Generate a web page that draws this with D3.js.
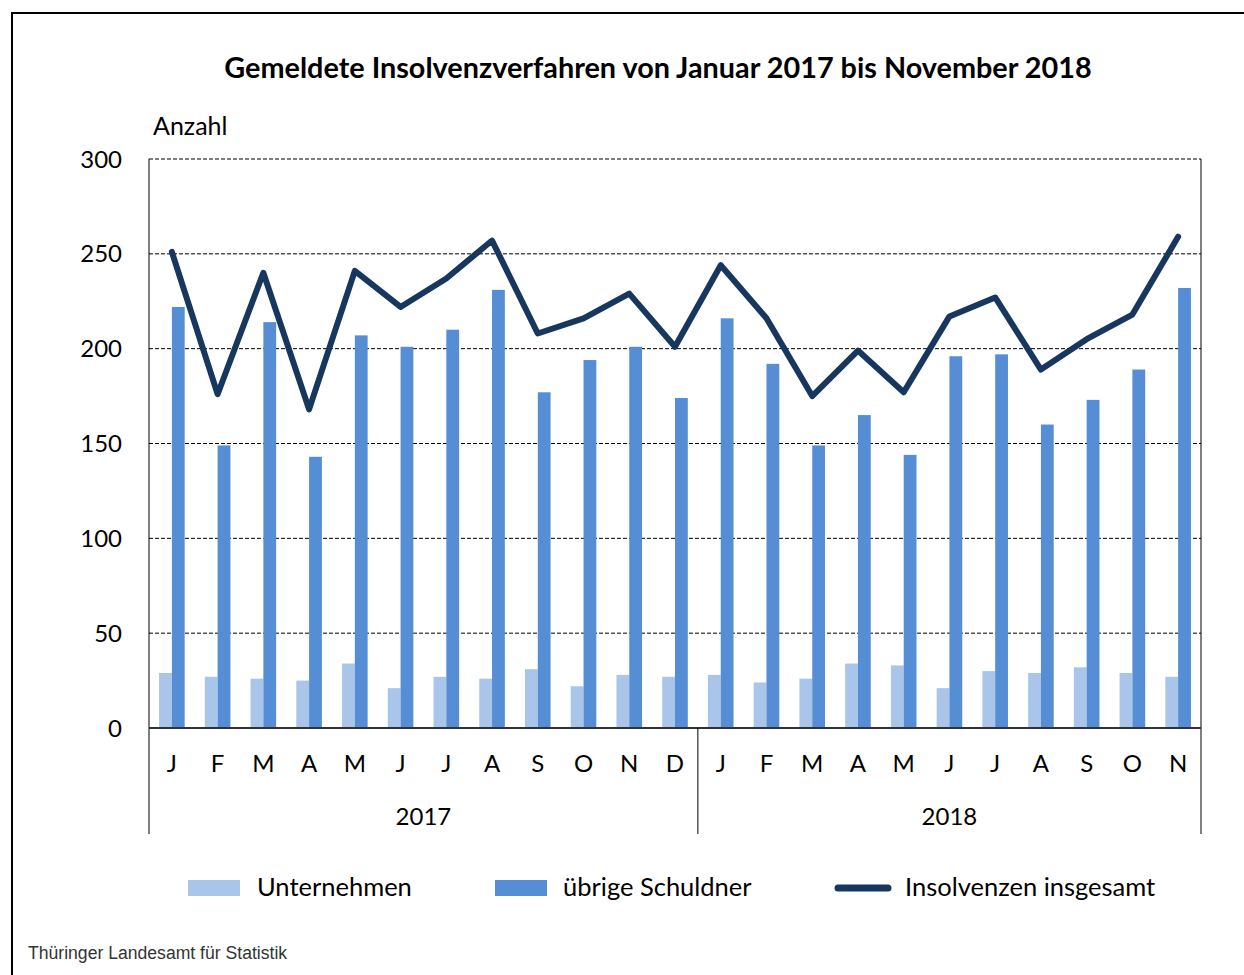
<!DOCTYPE html>
<html lang="de">
<head>
<meta charset="UTF-8">
<title>Insolvenzverfahren</title>
<script src="https://cdn.jsdelivr.net/npm/d3@7"></script>
<style>
  body { margin: 0; background: #fff; }
  text { font-family: Lato, "Noto Sans", sans-serif; fill: #000; }
</style>
</head>
<body>
<script>

var w = 1244;
var h = 975;

// data
var months = ["J","F","M","A","M","J","J","A","S","O","N","D",
              "J","F","M","A","M","J","J","A","S","O","N"];
var years = ["2017", "2018"];
var monthsPerYear = [12, 11];
var unternehmen = [29,27,26,25,34,21,27,26,31,22,28,27,
                   28,24,26,34,33,21,30,29,32,29,27];
var uebrige = [222,149,214,143,207,201,210,231,177,194,201,174,
               216,192,149,165,144,196,197,160,173,189,232];
var insgesamt = [251,176,240,168,241,222,237,257,208,216,229,201,
                 244,216,175,199,177,217,227,189,205,218,259];
var yTicks = [0,50,100,150,200,250,300];
var seriesNames = ["Unternehmen", "übrige Schuldner", "Insolvenzen insgesamt"];

var colLight = "#a9c6ea";
var colDark = "#558ed5";
var colLine = "#17375e";

var plot = {left: 149, right: 1201, top: 159, bottom: 728};

var svg = d3.select("body").append("svg")
    .attr("width", w)
    .attr("height", h);

// outer frame (only left and top edges visible)
svg.append("line").attr("x1", 12).attr("y1", 13).attr("x2", 12).attr("y2", h)
    .attr("stroke", "#000").attr("stroke-width", 2);
svg.append("line").attr("x1", 11).attr("y1", 13).attr("x2", w).attr("y2", 13)
    .attr("stroke", "#000").attr("stroke-width", 2);

svg.append("text")
    .attr("x", 658).attr("y", 78)
    .attr("text-anchor", "middle")
    .style("font-weight", "bold")
    .style("font-size", "28.8px")
    .text("Gemeldete Insolvenzverfahren von Januar 2017 bis November 2018");

svg.append("text")
    .attr("x", 153).attr("y", 135)
    .style("font-size", "25px")
    .text("Anzahl");

var x = d3.scaleBand()
    .domain(d3.range(months.length))
    .range([plot.left, plot.right]);

var y = d3.scaleLinear()
    .domain([0, 300])
    .range([plot.bottom, plot.top]);

var barW = 12.8;
var xSub = d3.scaleBand()
    .domain([0, 1])
    .range([-barW, barW]);

// gridlines
svg.append("g").selectAll("line")
    .data(yTicks.filter(function(d) { return d > 0; }))
    .enter().append("line")
    .attr("x1", plot.left).attr("x2", plot.right)
    .attr("y1", function(d) { return y(d); })
    .attr("y2", function(d) { return y(d); })
    .attr("stroke", "#000")
    .attr("stroke-width", 1)
    .attr("stroke-dasharray", "4,2");

// y tick labels
svg.append("g").selectAll("text")
    .data(yTicks)
    .enter().append("text")
    .attr("x", 122)
    .attr("y", function(d) { return y(d); })
    .attr("dy", "0.36em")
    .attr("text-anchor", "end")
    .style("font-size", "24px")
    .text(function(d) { return d; });

// bars
var cx = function(i) { return x(i) + x.bandwidth() / 2; };

svg.append("g").selectAll("rect")
    .data(unternehmen)
    .enter().append("rect")
    .attr("x", function(d, i) { return cx(i) + xSub(0); })
    .attr("y", function(d) { return y(d); })
    .attr("width", xSub.bandwidth())
    .attr("height", function(d) { return y(0) - y(d); })
    .attr("fill", colLight);

svg.append("g").selectAll("rect")
    .data(uebrige)
    .enter().append("rect")
    .attr("x", function(d, i) { return cx(i) + xSub(1); })
    .attr("y", function(d) { return y(d); })
    .attr("width", xSub.bandwidth())
    .attr("height", function(d) { return y(0) - y(d); })
    .attr("fill", colDark);

// frame lines of the plot
var axisBottom = 834;
svg.append("line").attr("x1", plot.left).attr("x2", plot.left)
    .attr("y1", plot.top).attr("y2", axisBottom).attr("stroke", "#000");
svg.append("line").attr("x1", plot.right).attr("x2", plot.right)
    .attr("y1", plot.top).attr("y2", axisBottom).attr("stroke", "#000");
svg.append("line").attr("x1", plot.left).attr("x2", plot.right)
    .attr("y1", y(0)).attr("y2", y(0))
    .attr("stroke", "#333").attr("stroke-width", 2);

// total line
var line = d3.line()
    .x(function(d, i) { return cx(i); })
    .y(function(d) { return y(d); });

svg.append("path")
    .datum(insgesamt)
    .attr("d", line)
    .attr("fill", "none")
    .attr("stroke", colLine)
    .attr("stroke-width", 6)
    .attr("stroke-linejoin", "round")
    .attr("stroke-linecap", "round");

// month labels
svg.append("g").selectAll("text")
    .data(months)
    .enter().append("text")
    .attr("x", function(d, i) { return cx(i); })
    .attr("y", 772)
    .attr("text-anchor", "middle")
    .style("font-size", "24px")
    .text(function(d) { return d; });

// year groups
var start = 0;
years.forEach(function(yr, k) {
    var n = monthsPerYear[k];
    var x0 = x(start);
    var x1 = x(start + n - 1) + x.bandwidth();
    if (k > 0) {
        svg.append("line").attr("x1", x0).attr("x2", x0)
            .attr("y1", y(0)).attr("y2", axisBottom).attr("stroke", "#000");
    }
    svg.append("text")
        .attr("x", (x0 + x1) / 2)
        .attr("y", 825)
        .attr("text-anchor", "middle")
        .style("font-size", "24px")
        .text(yr);
    start += n;
});

// legend
var lg = svg.append("g");
lg.append("rect").attr("x", 188).attr("y", 880).attr("width", 52).attr("height", 16)
    .attr("fill", colLight);
lg.append("text").attr("x", 257).attr("y", 896).style("font-size", "25.5px").text(seriesNames[0]);
lg.append("rect").attr("x", 495).attr("y", 880).attr("width", 52).attr("height", 16)
    .attr("fill", colDark);
lg.append("text").attr("x", 563).attr("y", 896).style("font-size", "25.5px").text(seriesNames[1]);
lg.append("line").attr("x1", 838).attr("x2", 888).attr("y1", 888).attr("y2", 888)
    .attr("stroke", colLine).attr("stroke-width", 7).attr("stroke-linecap", "round");
lg.append("text").attr("x", 905).attr("y", 896).style("font-size", "25.5px").text(seriesNames[2]);

// source
svg.append("text")
    .attr("x", 28).attr("y", 959)
    .style("font-family", "'Liberation Sans', Arial, sans-serif")
    .style("font-size", "17.6px")
    .style("fill", "#333")
    .text("Thüringer Landesamt für Statistik");

</script>
</body>
</html>
